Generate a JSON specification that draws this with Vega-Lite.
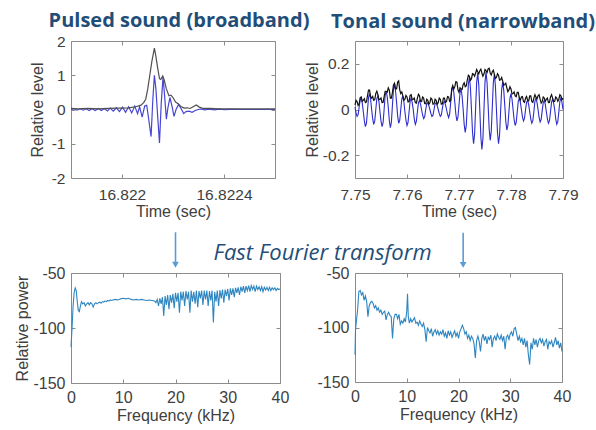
{
  "$schema": "https://vega.github.io/schema/vega-lite/v6.json",
  "autosize": {"type": "pad"},
  "padding": {"left": 14, "top": 10, "right": 5, "bottom": 5},
  "background": "white",
  "columns": 2,
  "bounds": "flush",
  "align": "each",
  "spacing": {"row": 95, "column": 75},
  "config": {
    "view": {"stroke": "#8c8c8c", "strokeWidth": 1},
    "locale": {"number": {"decimal": ".", "thousands": ",", "grouping": [3], "currency": ["$", ""], "minus": "-"}},
    "axis": {
      "domain": false, "grid": false,
      "labelFont": "Liberation Sans", "labelFontSize": 15.5, "labelColor": "#404040",
      "titleFont": "Liberation Sans", "titleFontSize": 16, "titleFontWeight": "normal", "titleColor": "#404040",
      "tickColor": "#8c8c8c", "tickSize": -4, "labelFlush": false
    },
    "title": {"font": "Open Sans", "fontSize": 20, "fontWeight": "bold", "color": "#1f4e79", "baseline": "alphabetic", "frame": "group"}
  },
  "datasets": {
    "pulseBlue": [
      {"t":16.8218,"v":0.0},{"t":16.821812,"v":0.02},{"t":16.821824,"v":-0.02},{"t":16.821836,"v":0.02},{"t":16.821848,"v":-0.02},{"t":16.821859,"v":0.02},{"t":16.821871,"v":-0.03},{"t":16.821883,"v":0.02},{"t":16.821895,"v":-0.03},{"t":16.821907,"v":0.03},{"t":16.821919,"v":-0.03},{"t":16.821931,"v":0.03},{"t":16.821943,"v":-0.04},{"t":16.821954,"v":0.04},{"t":16.821966,"v":-0.05},{"t":16.821978,"v":0.05},{"t":16.82199,"v":-0.06},{"t":16.822002,"v":0.07},{"t":16.822014,"v":-0.08},{"t":16.822026,"v":0.08},{"t":16.822038,"v":-0.1},{"t":16.82205,"v":0.1},{"t":16.822061,"v":-0.12},{"t":16.822069,"v":0.08},{"t":16.822079,"v":-0.22},{"t":16.822089,"v":0.1},{"t":16.822097,"v":0.12},{"t":16.822105,"v":-0.3},{"t":16.822114,"v":-0.79},{"t":16.822121,"v":0.3},{"t":16.822127,"v":1.0},{"t":16.822133,"v":0.6},{"t":16.822139,"v":-0.1},{"t":16.822147,"v":-0.98},{"t":16.822154,"v":0.2},{"t":16.822161,"v":0.95},{"t":16.822166,"v":0.5},{"t":16.822174,"v":-0.28},{"t":16.82218,"v":0.05},{"t":16.822188,"v":0.35},{"t":16.822196,"v":0.1},{"t":16.822204,"v":-0.2},{"t":16.822212,"v":0.0},{"t":16.822222,"v":0.15},{"t":16.822232,"v":0.02},{"t":16.822242,"v":-0.12},{"t":16.822251,"v":-0.06},{"t":16.822263,"v":-0.05},{"t":16.822275,"v":-0.08},{"t":16.822287,"v":-0.03},{"t":16.822299,"v":0.0},{"t":16.822311,"v":0.02},{"t":16.822323,"v":-0.01},{"t":16.822343,"v":0.01},{"t":16.822362,"v":-0.01},{"t":16.822382,"v":0.01},{"t":16.822402,"v":-0.005},{"t":16.822422,"v":0.005},{"t":16.822461,"v":0.0},{"t":16.822501,"v":0.0},{"t":16.822541,"v":0.0},{"t":16.8226,"v":0.0}
    ],
    "pulseBlack": [
      {"t":16.8218,"v":0.03},{"t":16.821828,"v":0.02},{"t":16.821867,"v":0.03},{"t":16.821907,"v":0.02},{"t":16.821947,"v":0.03},{"t":16.821986,"v":0.04},{"t":16.822026,"v":0.05},{"t":16.822053,"v":0.08},{"t":16.822073,"v":0.12},{"t":16.822085,"v":0.2},{"t":16.822093,"v":0.3},{"t":16.822101,"v":0.6},{"t":16.822109,"v":1.0},{"t":16.822117,"v":1.4},{"t":16.822127,"v":1.79},{"t":16.822133,"v":1.55},{"t":16.822139,"v":1.25},{"t":16.822147,"v":0.9},{"t":16.822152,"v":0.88},{"t":16.82216,"v":0.98},{"t":16.822166,"v":0.85},{"t":16.822174,"v":0.6},{"t":16.822184,"v":0.4},{"t":16.822192,"v":0.42},{"t":16.8222,"v":0.35},{"t":16.82221,"v":0.22},{"t":16.82222,"v":0.17},{"t":16.822232,"v":0.08},{"t":16.822244,"v":0.04},{"t":16.822255,"v":0.05},{"t":16.822267,"v":0.03},{"t":16.822279,"v":0.08},{"t":16.822291,"v":0.13},{"t":16.822303,"v":0.07},{"t":16.822319,"v":0.03},{"t":16.822343,"v":0.03},{"t":16.822382,"v":0.02},{"t":16.822461,"v":0.02},{"t":16.822541,"v":0.02},{"t":16.8226,"v":0.02}
    ],
    "toneBlue": [
      {"t":7.75,"v":0.01},{"t":7.7504,"v":-0.03},{"t":7.7508,"v":0.01},{"t":7.7512,"v":0.05},{"t":7.7516,"v":-0.01},{"t":7.752,"v":-0.075},{"t":7.7524,"v":-0.005},{"t":7.7528,"v":0.07},{"t":7.7532,"v":0.0},{"t":7.7536,"v":-0.065},{"t":7.754,"v":0.0},{"t":7.7544,"v":0.06},{"t":7.7548,"v":-0.01},{"t":7.7552,"v":-0.075},{"t":7.7556,"v":0.0},{"t":7.756,"v":0.08},{"t":7.7564,"v":0.01},{"t":7.7568,"v":-0.08},{"t":7.7572,"v":0.02},{"t":7.7576,"v":0.11},{"t":7.758,"v":0.03},{"t":7.7584,"v":-0.06},{"t":7.7588,"v":0.0},{"t":7.7592,"v":0.06},{"t":7.7596,"v":-0.01},{"t":7.76,"v":-0.07},{"t":7.7604,"v":-0.01},{"t":7.7608,"v":0.05},{"t":7.7612,"v":0.0},{"t":7.7616,"v":-0.065},{"t":7.762,"v":-0.01},{"t":7.7624,"v":0.04},{"t":7.7628,"v":0.0},{"t":7.7632,"v":-0.04},{"t":7.7636,"v":0.0},{"t":7.764,"v":0.03},{"t":7.7644,"v":0.0},{"t":7.7648,"v":-0.03},{"t":7.7652,"v":0.0},{"t":7.7656,"v":0.03},{"t":7.766,"v":0.0},{"t":7.7664,"v":-0.03},{"t":7.7668,"v":0.005},{"t":7.7672,"v":0.035},{"t":7.7676,"v":0.0},{"t":7.768,"v":-0.035},{"t":7.7684,"v":0.03},{"t":7.7688,"v":0.1},{"t":7.7692,"v":0.03},{"t":7.7696,"v":-0.05},{"t":7.77,"v":0.02},{"t":7.7704,"v":0.09},{"t":7.7708,"v":0.0},{"t":7.7712,"v":-0.1},{"t":7.7716,"v":0.02},{"t":7.772,"v":0.14},{"t":7.7724,"v":0.0},{"t":7.7728,"v":-0.15},{"t":7.7732,"v":0.01},{"t":7.7736,"v":0.16},{"t":7.774,"v":0.0},{"t":7.7744,"v":-0.175},{"t":7.7748,"v":0.0},{"t":7.7752,"v":0.165},{"t":7.7756,"v":0.02},{"t":7.776,"v":-0.135},{"t":7.7764,"v":0.01},{"t":7.7768,"v":0.155},{"t":7.7772,"v":0.0},{"t":7.7776,"v":-0.15},{"t":7.778,"v":-0.01},{"t":7.7784,"v":0.12},{"t":7.7788,"v":0.02},{"t":7.7792,"v":-0.09},{"t":7.7796,"v":-0.01},{"t":7.78,"v":0.07},{"t":7.7804,"v":0.0},{"t":7.7808,"v":-0.07},{"t":7.7812,"v":-0.01},{"t":7.7816,"v":0.05},{"t":7.782,"v":0.0},{"t":7.7824,"v":-0.05},{"t":7.7828,"v":0.0},{"t":7.7832,"v":0.04},{"t":7.7836,"v":-0.01},{"t":7.784,"v":-0.06},{"t":7.7844,"v":-0.01},{"t":7.7848,"v":0.05},{"t":7.7852,"v":0.0},{"t":7.7856,"v":-0.055},{"t":7.786,"v":-0.005},{"t":7.7864,"v":0.04},{"t":7.7868,"v":-0.01},{"t":7.7872,"v":-0.06},{"t":7.7876,"v":-0.01},{"t":7.788,"v":0.045},{"t":7.7884,"v":0.0},{"t":7.7888,"v":-0.065},{"t":7.7892,"v":-0.01},{"t":7.7896,"v":0.05},{"t":7.79,"v":0.0},
      {"t":7.7502,"v":-0.015},{"t":7.7506,"v":-0.022},{"t":7.751,"v":0.042},{"t":7.7514,"v":0.028},{"t":7.7518,"v":-0.05},{"t":7.7522,"v":-0.06},{"t":7.7526,"v":0.052},{"t":7.753,"v":0.045},{"t":7.7534,"v":-0.04},{"t":7.7538,"v":-0.05},{"t":7.7542,"v":0.048},{"t":7.7546,"v":0.035},{"t":7.755,"v":-0.05},{"t":7.7554,"v":-0.058},{"t":7.7558,"v":0.062},{"t":7.7562,"v":0.055},{"t":7.7566,"v":-0.048},{"t":7.757,"v":-0.056},{"t":7.7574,"v":0.088},{"t":7.7578,"v":0.08},{"t":7.7582,"v":-0.028},{"t":7.7586,"v":-0.048},{"t":7.759,"v":0.046},{"t":7.7594,"v":0.034},{"t":7.7598,"v":-0.047},{"t":7.7602,"v":-0.056},{"t":7.7606,"v":0.036},{"t":7.761,"v":0.03},{"t":7.7614,"v":-0.042},{"t":7.7618,"v":-0.052},{"t":7.7622,"v":0.03},{"t":7.7626,"v":0.024},{"t":7.763,"v":-0.024},{"t":7.7634,"v":-0.032},{"t":7.7638,"v":0.025},{"t":7.7642,"v":0.017},{"t":7.7646,"v":-0.018},{"t":7.765,"v":-0.025},{"t":7.7654,"v":0.024},{"t":7.7658,"v":0.018},{"t":7.7662,"v":-0.017},{"t":7.7666,"v":-0.024},{"t":7.767,"v":0.03},{"t":7.7674,"v":0.02},{"t":7.7678,"v":-0.02},{"t":7.7682,"v":-0.02},{"t":7.7686,"v":0.084},{"t":7.769,"v":0.075},{"t":7.7694,"v":-0.022},{"t":7.7698,"v":-0.034},{"t":7.7702,"v":0.074},{"t":7.7706,"v":0.058},{"t":7.771,"v":-0.066},{"t":7.7714,"v":-0.07},{"t":7.7718,"v":0.11},{"t":7.7722,"v":0.094},{"t":7.7726,"v":-0.1},{"t":7.773,"v":-0.108},{"t":7.7734,"v":0.12},{"t":7.7738,"v":0.108},{"t":7.7742,"v":-0.118},{"t":7.7746,"v":-0.128},{"t":7.775,"v":0.12},{"t":7.7754,"v":0.116},{"t":7.7758,"v":-0.084},{"t":7.7762,"v":-0.097},{"t":7.7766,"v":0.117},{"t":7.777,"v":0.104},{"t":7.7774,"v":-0.1},{"t":7.7778,"v":-0.113},{"t":7.7782,"v":0.086},{"t":7.7786,"v":0.085},{"t":7.779,"v":-0.053},{"t":7.7794,"v":-0.07},{"t":7.7798,"v":0.05},{"t":7.7802,"v":0.045},{"t":7.7806,"v":-0.045},{"t":7.781,"v":-0.056},{"t":7.7814,"v":0.036},{"t":7.7818,"v":0.031},{"t":7.7822,"v":-0.031},{"t":7.7826,"v":-0.039},{"t":7.783,"v":0.032},{"t":7.7834,"v":0.021},{"t":7.7838,"v":-0.041},{"t":7.7842,"v":-0.049},{"t":7.7846,"v":0.036},{"t":7.785,"v":0.031},{"t":7.7854,"v":-0.035},{"t":7.7858,"v":-0.044},{"t":7.7862,"v":0.03},{"t":7.7866,"v":0.021},{"t":7.787,"v":-0.041},{"t":7.7874,"v":-0.049},{"t":7.7878,"v":0.032},{"t":7.7882,"v":0.028},{"t":7.7886,"v":-0.041},{"t":7.789,"v":-0.053},{"t":7.7894,"v":0.036},{"t":7.7898,"v":0.031}
    ],
    "toneBlack": [
      {"t":7.75,"v":0.02},{"t":7.7504,"v":0.035},{"t":7.7508,"v":0.025},{"t":7.7512,"v":0.055},{"t":7.7516,"v":0.04},{"t":7.752,"v":0.03},{"t":7.7524,"v":0.06},{"t":7.7528,"v":0.085},{"t":7.7532,"v":0.05},{"t":7.7536,"v":0.04},{"t":7.754,"v":0.07},{"t":7.7544,"v":0.065},{"t":7.7548,"v":0.045},{"t":7.7552,"v":0.03},{"t":7.7556,"v":0.055},{"t":7.756,"v":0.08},{"t":7.7564,"v":0.095},{"t":7.7568,"v":0.05},{"t":7.7572,"v":0.075},{"t":7.7576,"v":0.115},{"t":7.758,"v":0.09},{"t":7.7584,"v":0.125},{"t":7.7588,"v":0.07},{"t":7.7592,"v":0.06},{"t":7.7596,"v":0.045},{"t":7.76,"v":0.055},{"t":7.7604,"v":0.035},{"t":7.7608,"v":0.065},{"t":7.7612,"v":0.045},{"t":7.7616,"v":0.03},{"t":7.762,"v":0.05},{"t":7.7624,"v":0.06},{"t":7.7628,"v":0.035},{"t":7.7632,"v":0.05},{"t":7.7636,"v":0.025},{"t":7.764,"v":0.04},{"t":7.7644,"v":0.03},{"t":7.7648,"v":0.045},{"t":7.7652,"v":0.025},{"t":7.7656,"v":0.04},{"t":7.766,"v":0.03},{"t":7.7664,"v":0.045},{"t":7.7668,"v":0.025},{"t":7.7672,"v":0.05},{"t":7.7676,"v":0.035},{"t":7.768,"v":0.055},{"t":7.7684,"v":0.04},{"t":7.7688,"v":0.105},{"t":7.7692,"v":0.1},{"t":7.7696,"v":0.12},{"t":7.77,"v":0.075},{"t":7.7704,"v":0.09},{"t":7.7708,"v":0.11},{"t":7.7712,"v":0.1},{"t":7.7716,"v":0.13},{"t":7.772,"v":0.145},{"t":7.7724,"v":0.135},{"t":7.7728,"v":0.155},{"t":7.7732,"v":0.16},{"t":7.7736,"v":0.165},{"t":7.774,"v":0.17},{"t":7.7744,"v":0.16},{"t":7.7748,"v":0.155},{"t":7.7752,"v":0.17},{"t":7.7756,"v":0.178},{"t":7.776,"v":0.16},{"t":7.7764,"v":0.165},{"t":7.7768,"v":0.155},{"t":7.7772,"v":0.14},{"t":7.7776,"v":0.15},{"t":7.778,"v":0.13},{"t":7.7784,"v":0.125},{"t":7.7788,"v":0.11},{"t":7.7792,"v":0.095},{"t":7.7796,"v":0.085},{"t":7.78,"v":0.09},{"t":7.7804,"v":0.07},{"t":7.7808,"v":0.06},{"t":7.7812,"v":0.075},{"t":7.7816,"v":0.05},{"t":7.782,"v":0.055},{"t":7.7824,"v":0.035},{"t":7.7828,"v":0.05},{"t":7.7832,"v":0.04},{"t":7.7836,"v":0.06},{"t":7.784,"v":0.035},{"t":7.7844,"v":0.05},{"t":7.7848,"v":0.055},{"t":7.7852,"v":0.06},{"t":7.7856,"v":0.045},{"t":7.786,"v":0.035},{"t":7.7864,"v":0.05},{"t":7.7868,"v":0.045},{"t":7.7872,"v":0.03},{"t":7.7876,"v":0.055},{"t":7.788,"v":0.05},{"t":7.7884,"v":0.035},{"t":7.7888,"v":0.05},{"t":7.7892,"v":0.045},{"t":7.7896,"v":0.06},{"t":7.79,"v":0.05},
      {"t":7.7502,"v":0.04},{"t":7.7506,"v":0.018},{"t":7.751,"v":0.052},{"t":7.7514,"v":0.036},{"t":7.7518,"v":0.047},{"t":7.7522,"v":0.033},{"t":7.7526,"v":0.085},{"t":7.753,"v":0.056},{"t":7.7534,"v":0.057},{"t":7.7538,"v":0.043},{"t":7.7542,"v":0.08},{"t":7.7546,"v":0.043},{"t":7.755,"v":0.05},{"t":7.7554,"v":0.031},{"t":7.7558,"v":0.08},{"t":7.7562,"v":0.076},{"t":7.7566,"v":0.085},{"t":7.757,"v":0.05},{"t":7.7574,"v":0.107},{"t":7.7578,"v":0.09},{"t":7.7582,"v":0.12},{"t":7.7586,"v":0.086},{"t":7.759,"v":0.077},{"t":7.7594,"v":0.04},{"t":7.7598,"v":0.062},{"t":7.7602,"v":0.033},{"t":7.7606,"v":0.062},{"t":7.761,"v":0.043},{"t":7.7614,"v":0.05},{"t":7.7618,"v":0.028},{"t":7.7622,"v":0.067},{"t":7.7626,"v":0.036},{"t":7.763,"v":0.055},{"t":7.7634,"v":0.026},{"t":7.7638,"v":0.045},{"t":7.7642,"v":0.023},{"t":7.7646,"v":0.05},{"t":7.765,"v":0.023},{"t":7.7654,"v":0.045},{"t":7.7658,"v":0.023},{"t":7.7662,"v":0.05},{"t":7.7666,"v":0.023},{"t":7.767,"v":0.05},{"t":7.7674,"v":0.031},{"t":7.7678,"v":0.057},{"t":7.7682,"v":0.036},{"t":7.7686,"v":0.09},{"t":7.769,"v":0.09},{"t":7.7694,"v":0.122},{"t":7.7698,"v":0.086},{"t":7.7702,"v":0.095},{"t":7.7706,"v":0.088},{"t":7.771,"v":0.117},{"t":7.7714,"v":0.103},{"t":7.7718,"v":0.15},{"t":7.7722,"v":0.128},{"t":7.7726,"v":0.157},{"t":7.773,"v":0.146},{"t":7.7734,"v":0.175},{"t":7.7738,"v":0.156},{"t":7.7742,"v":0.177},{"t":7.7746,"v":0.146},{"t":7.775,"v":0.175},{"t":7.7754,"v":0.162},{"t":7.7758,"v":0.181},{"t":7.7762,"v":0.151},{"t":7.7766,"v":0.172},{"t":7.777,"v":0.136},{"t":7.7774,"v":0.157},{"t":7.7778,"v":0.128},{"t":7.7782,"v":0.14},{"t":7.7786,"v":0.106},{"t":7.779,"v":0.115},{"t":7.7794,"v":0.078},{"t":7.7798,"v":0.1},{"t":7.7802,"v":0.068},{"t":7.7806,"v":0.077},{"t":7.781,"v":0.056},{"t":7.7814,"v":0.075},{"t":7.7818,"v":0.041},{"t":7.7822,"v":0.057},{"t":7.7826,"v":0.031},{"t":7.783,"v":0.057},{"t":7.7834,"v":0.038},{"t":7.7838,"v":0.06},{"t":7.7842,"v":0.031},{"t":7.7846,"v":0.065},{"t":7.785,"v":0.046},{"t":7.7854,"v":0.065},{"t":7.7858,"v":0.028},{"t":7.7862,"v":0.055},{"t":7.7866,"v":0.036},{"t":7.787,"v":0.05},{"t":7.7874,"v":0.031},{"t":7.7878,"v":0.065},{"t":7.7882,"v":0.035},{"t":7.7886,"v":0.055},{"t":7.789,"v":0.036},{"t":7.7894,"v":0.065},{"t":7.7898,"v":0.043}
    ],
    "pulseFFT": [
      {"f":0.0,"p":-117},{"f":0.2,"p":-100},{"f":0.4,"p":-80},{"f":0.6,"p":-68},{"f":0.8,"p":-63.5},{"f":1.0,"p":-66},{"f":1.2,"p":-76},{"f":1.4,"p":-84},{"f":1.6,"p":-85},{"f":1.8,"p":-80},{"f":2.0,"p":-76},{"f":2.25,"p":-78},{"f":2.5,"p":-77},{"f":2.75,"p":-80},{"f":3.0,"p":-78},{"f":3.25,"p":-77},{"f":3.5,"p":-79},{"f":3.75,"p":-77},{"f":4.0,"p":-78},{"f":4.25,"p":-81},{"f":4.5,"p":-78},{"f":4.75,"p":-77},{"f":5.0,"p":-78},{"f":5.25,"p":-77},{"f":5.5,"p":-76.5},{"f":5.75,"p":-77.5},{"f":6.0,"p":-76},{"f":6.25,"p":-76.5},{"f":6.5,"p":-75.5},{"f":6.75,"p":-76},{"f":7.0,"p":-75},{"f":7.25,"p":-75.5},{"f":7.5,"p":-74.5},{"f":7.75,"p":-75},{"f":8.0,"p":-74.5},{"f":8.5,"p":-74},{"f":9.0,"p":-74.5},{"f":9.5,"p":-73.5},{"f":10.0,"p":-73},{"f":10.5,"p":-73.5},{"f":11.0,"p":-73},{"f":11.5,"p":-74},{"f":12.0,"p":-74.5},{"f":12.5,"p":-74},{"f":13.0,"p":-74.5},{"f":13.5,"p":-74},{"f":14.0,"p":-74.5},{"f":14.5,"p":-75},{"f":15.0,"p":-74.5},{"f":15.5,"p":-75},{"f":16.0,"p":-75.5},{"f":16.25,"p":-77},{"f":16.5,"p":-74},{"f":16.75,"p":-80},{"f":17.0,"p":-73},{"f":17.25,"p":-78},{"f":17.5,"p":-72},{"f":17.75,"p":-89},{"f":18.0,"p":-71},{"f":18.25,"p":-79},{"f":18.5,"p":-70},{"f":18.75,"p":-83},{"f":19.0,"p":-70},{"f":19.25,"p":-77},{"f":19.5,"p":-69},{"f":19.75,"p":-82},{"f":20.0,"p":-68},{"f":20.25,"p":-76},{"f":20.5,"p":-68},{"f":20.75,"p":-86},{"f":21.0,"p":-67},{"f":21.25,"p":-75},{"f":21.5,"p":-67},{"f":21.75,"p":-80},{"f":22.0,"p":-66.5},{"f":22.25,"p":-74},{"f":22.5,"p":-67},{"f":22.75,"p":-86},{"f":23.0,"p":-66},{"f":23.25,"p":-76},{"f":23.5,"p":-67},{"f":23.75,"p":-78},{"f":24.0,"p":-66},{"f":24.25,"p":-81},{"f":24.5,"p":-66.5},{"f":24.75,"p":-73},{"f":25.0,"p":-66},{"f":25.25,"p":-79},{"f":25.5,"p":-66},{"f":25.75,"p":-74},{"f":26.0,"p":-66},{"f":26.25,"p":-80},{"f":26.5,"p":-66.5},{"f":26.75,"p":-75},{"f":27.0,"p":-66},{"f":27.25,"p":-95},{"f":27.5,"p":-67},{"f":27.75,"p":-76},{"f":28.0,"p":-66},{"f":28.25,"p":-80},{"f":28.5,"p":-65.5},{"f":28.75,"p":-73},{"f":29.0,"p":-65},{"f":29.25,"p":-77},{"f":29.5,"p":-65},{"f":29.75,"p":-71},{"f":30.0,"p":-64.5},{"f":30.25,"p":-75},{"f":30.5,"p":-64},{"f":30.75,"p":-70},{"f":31.0,"p":-64},{"f":31.25,"p":-72},{"f":31.5,"p":-63.5},{"f":31.75,"p":-68},{"f":32.0,"p":-63},{"f":32.25,"p":-70},{"f":32.5,"p":-62.5},{"f":32.75,"p":-67},{"f":33.0,"p":-62},{"f":33.25,"p":-68},{"f":33.5,"p":-62},{"f":33.75,"p":-66},{"f":34.0,"p":-61.5},{"f":34.25,"p":-67},{"f":34.5,"p":-61.5},{"f":34.75,"p":-65},{"f":35.0,"p":-62},{"f":35.25,"p":-67},{"f":35.5,"p":-62},{"f":35.75,"p":-65},{"f":36.0,"p":-62.5},{"f":36.25,"p":-66},{"f":36.5,"p":-62.5},{"f":36.75,"p":-67},{"f":37.0,"p":-63},{"f":37.25,"p":-65.5},{"f":37.5,"p":-63},{"f":37.75,"p":-66},{"f":38.0,"p":-63},{"f":38.25,"p":-66},{"f":38.5,"p":-63.5},{"f":38.75,"p":-65},{"f":39.0,"p":-63.5},{"f":39.25,"p":-66},{"f":39.5,"p":-64},{"f":39.75,"p":-65},{"f":40.0,"p":-64.5}
    ],
    "toneFFT": [
      {"f":0.0,"p":-125},{"f":0.1,"p":-102},{"f":0.25,"p":-95},{"f":0.5,"p":-84},{"f":0.75,"p":-67},{"f":1.0,"p":-66},{"f":1.25,"p":-70},{"f":1.5,"p":-68},{"f":1.75,"p":-75},{"f":2.0,"p":-71},{"f":2.25,"p":-76},{"f":2.5,"p":-90},{"f":2.75,"p":-80},{"f":3.0,"p":-77},{"f":3.25,"p":-76},{"f":3.5,"p":-78},{"f":3.75,"p":-82},{"f":4.0,"p":-80},{"f":4.25,"p":-84},{"f":4.5,"p":-82},{"f":4.75,"p":-86},{"f":5.0,"p":-84},{"f":5.25,"p":-88},{"f":5.5,"p":-86},{"f":5.75,"p":-85},{"f":6.0,"p":-93},{"f":6.25,"p":-88},{"f":6.5,"p":-86},{"f":6.75,"p":-89},{"f":7.0,"p":-90},{"f":7.25,"p":-110},{"f":7.5,"p":-92},{"f":7.75,"p":-88},{"f":8.0,"p":-88},{"f":8.25,"p":-92},{"f":8.5,"p":-88},{"f":8.75,"p":-97},{"f":9.0,"p":-94},{"f":9.25,"p":-96},{"f":9.5,"p":-92},{"f":9.75,"p":-95},{"f":10.0,"p":-85},{"f":10.15,"p":-69},{"f":10.3,"p":-90},{"f":10.5,"p":-96},{"f":10.75,"p":-92},{"f":11.0,"p":-95},{"f":11.25,"p":-93},{"f":11.5,"p":-91},{"f":11.75,"p":-96},{"f":12.0,"p":-95},{"f":12.25,"p":-98},{"f":12.5,"p":-94},{"f":12.75,"p":-97},{"f":13.0,"p":-99},{"f":13.25,"p":-96},{"f":13.5,"p":-102},{"f":13.75,"p":-113},{"f":14.0,"p":-100},{"f":14.25,"p":-103},{"f":14.5,"p":-105},{"f":14.75,"p":-101},{"f":15.0,"p":-108},{"f":15.25,"p":-104},{"f":15.5,"p":-102},{"f":15.75,"p":-106},{"f":16.0,"p":-103},{"f":16.25,"p":-107},{"f":16.5,"p":-104},{"f":16.75,"p":-106},{"f":17.0,"p":-102},{"f":17.25,"p":-108},{"f":17.5,"p":-105},{"f":17.75,"p":-110},{"f":18.0,"p":-103},{"f":18.25,"p":-107},{"f":18.5,"p":-104},{"f":18.75,"p":-109},{"f":19.0,"p":-106},{"f":19.25,"p":-103},{"f":19.5,"p":-108},{"f":19.75,"p":-105},{"f":20.0,"p":-110},{"f":20.25,"p":-104},{"f":20.5,"p":-101},{"f":20.75,"p":-98},{"f":21.0,"p":-101},{"f":21.25,"p":-106},{"f":21.5,"p":-104},{"f":21.75,"p":-110},{"f":22.0,"p":-107},{"f":22.25,"p":-112},{"f":22.5,"p":-108},{"f":22.75,"p":-110},{"f":23.0,"p":-115},{"f":23.25,"p":-128},{"f":23.5,"p":-112},{"f":23.75,"p":-108},{"f":24.0,"p":-113},{"f":24.25,"p":-122},{"f":24.5,"p":-110},{"f":24.75,"p":-106},{"f":25.0,"p":-112},{"f":25.25,"p":-108},{"f":25.5,"p":-115},{"f":25.75,"p":-109},{"f":26.0,"p":-111},{"f":26.25,"p":-107},{"f":26.5,"p":-118},{"f":26.75,"p":-110},{"f":27.0,"p":-108},{"f":27.25,"p":-112},{"f":27.5,"p":-106},{"f":27.75,"p":-109},{"f":28.0,"p":-111},{"f":28.25,"p":-107},{"f":28.5,"p":-112},{"f":28.75,"p":-108},{"f":29.0,"p":-120},{"f":29.25,"p":-109},{"f":29.5,"p":-107},{"f":29.75,"p":-111},{"f":30.0,"p":-106},{"f":30.25,"p":-104},{"f":30.5,"p":-108},{"f":30.75,"p":-101},{"f":31.0,"p":-100},{"f":31.25,"p":-106},{"f":31.5,"p":-112},{"f":31.75,"p":-108},{"f":32.0,"p":-113},{"f":32.25,"p":-110},{"f":32.5,"p":-116},{"f":32.75,"p":-110},{"f":33.0,"p":-118},{"f":33.25,"p":-112},{"f":33.5,"p":-125},{"f":33.75,"p":-134},{"f":34.0,"p":-114},{"f":34.25,"p":-120},{"f":34.5,"p":-110},{"f":34.75,"p":-116},{"f":35.0,"p":-111},{"f":35.25,"p":-118},{"f":35.5,"p":-112},{"f":35.75,"p":-110},{"f":36.0,"p":-114},{"f":36.25,"p":-111},{"f":36.5,"p":-117},{"f":36.75,"p":-113},{"f":37.0,"p":-111},{"f":37.25,"p":-120},{"f":37.5,"p":-113},{"f":37.75,"p":-115},{"f":38.0,"p":-112},{"f":38.25,"p":-118},{"f":38.5,"p":-114},{"f":38.75,"p":-109},{"f":39.0,"p":-116},{"f":39.25,"p":-112},{"f":39.5,"p":-119},{"f":39.75,"p":-114},{"f":40.0,"p":-122}
    ]
  },
  "concat": [
    {
      "width": 204, "height": 137,
      "title": {"text": "Pulsed sound (broadband)", "dx": 6, "offset": 3},
      "resolve": {"axis": {"x": "independent", "y": "independent"}},
      "layer": [
        {"data": {"name": "pulseBlue"}, "mark": {"type": "line", "color": "#4646d2", "strokeWidth": 1.2},
         "encoding": {
           "x": {"field": "t", "type": "quantitative", "scale": {"domain": [16.8218, 16.8226], "nice": false, "zero": false},
                 "axis": {"values": [16.822, 16.8224], "format": ".4~f", "title": "Time (sec)", "labelPadding": 13, "titlePadding": 1}},
           "y": {"field": "v", "type": "quantitative", "scale": {"domain": [-2, 2], "nice": false},
                 "axis": {"values": [-2, -1, 0, 1, 2], "title": "Relative level", "labelPadding": 10, "titlePadding": 6}}
         }},
        {"data": {"name": "pulseBlack"}, "mark": {"type": "line", "color": "#505050", "strokeWidth": 1.2},
         "encoding": {
           "x": {"field": "t", "type": "quantitative", "scale": {"domain": [16.8218, 16.8226], "nice": false, "zero": false},
                 "axis": {"orient": "top", "values": [16.822, 16.8224], "labels": false, "title": null}},
           "y": {"field": "v", "type": "quantitative", "scale": {"domain": [-2, 2], "nice": false},
                 "axis": {"orient": "right", "values": [-2, -1, 0, 1, 2], "labels": false, "title": null}}
         }}
      ]
    },
    {
      "width": 208, "height": 137,
      "title": {"text": "Tonal sound (narrowband)", "dx": 4, "offset": 9},
      "resolve": {"axis": {"x": "independent", "y": "independent"}},
      "layer": [
        {"data": {"name": "toneBlue"}, "mark": {"type": "line", "color": "#2d2dcc", "strokeWidth": 1.1},
         "encoding": {
           "x": {"field": "t", "type": "quantitative", "scale": {"domain": [7.75, 7.79], "nice": false, "zero": false},
                 "axis": {"values": [7.75, 7.76, 7.77, 7.78, 7.79], "format": ".2f", "title": "Time (sec)", "labelPadding": 13, "titlePadding": 1}},
           "y": {"field": "v", "type": "quantitative", "scale": {"domain": [-0.3, 0.3], "nice": false},
                 "axis": {"values": [-0.2, 0, 0.2], "format": ".1~f", "title": "Relative level", "labelPadding": 10, "titlePadding": 2}}
         }},
        {"data": {"name": "toneBlack"}, "mark": {"type": "line", "color": "#111111", "strokeWidth": 1.2},
         "encoding": {
           "x": {"field": "t", "type": "quantitative", "scale": {"domain": [7.75, 7.79], "nice": false, "zero": false},
                 "axis": {"orient": "top", "values": [7.75, 7.76, 7.77, 7.78, 7.79], "labels": false, "title": null}},
           "y": {"field": "v", "type": "quantitative", "scale": {"domain": [-0.3, 0.3], "nice": false},
                 "axis": {"orient": "right", "values": [-0.2, 0, 0.2], "labels": false, "title": null}}
         }}
      ]
    },
    {
      "width": 209, "height": 110,
      "resolve": {"axis": {"x": "independent", "y": "independent"}},
      "layer": [
        {"data": {"name": "pulseFFT"}, "mark": {"type": "line", "color": "#2e86c1", "strokeWidth": 1.1},
         "encoding": {
           "x": {"field": "f", "type": "quantitative", "scale": {"domain": [0, 40], "nice": false},
                 "axis": {"values": [0, 10, 20, 30, 40], "title": "Frequency (kHz)", "labelPadding": 10, "titlePadding": 2, "labelFontSize": 16}},
           "y": {"field": "p", "type": "quantitative", "scale": {"domain": [-150, -50], "nice": false, "zero": false},
                 "axis": {"values": [-150, -100, -50], "title": "Relative power", "labelPadding": 10, "titlePadding": 2, "labelFontSize": 16}}
         }},
        {"data": {"values": [{}]}, "mark": {"type": "rule", "color": "#5b9bd5", "strokeWidth": 1.6},
         "encoding": {
           "x": {"datum": 20, "type": "quantitative", "axis": {"orient": "top", "values": [0, 10, 20, 30, 40], "labels": false, "title": null}},
           "y": {"datum": -13, "type": "quantitative", "axis": {"orient": "right", "values": [-150, -100, -50], "labels": false, "title": null}},
           "y2": {"datum": -41}
         }},
        {"data": {"values": [{}]}, "mark": {"type": "point", "shape": "triangle-down", "filled": true, "color": "#5b9bd5", "size": 45, "opacity": 1},
         "encoding": {"x": {"datum": 20, "type": "quantitative", "axis": null}, "y": {"datum": -42.5, "type": "quantitative", "axis": null}}}
      ]
    },
    {
      "width": 207, "height": 109,
      "title": {"text": "Fast Fourier transform", "fontStyle": "italic", "fontWeight": "normal", "fontSize": 22, "dx": -136, "dy": 36, "offset": 3},
      "resolve": {"axis": {"x": "independent", "y": "independent"}},
      "layer": [
        {"data": {"name": "toneFFT"}, "mark": {"type": "line", "color": "#2e86c1", "strokeWidth": 1.1},
         "encoding": {
           "x": {"field": "f", "type": "quantitative", "scale": {"domain": [0, 40], "nice": false},
                 "axis": {"values": [0, 10, 20, 30, 40], "title": "Frequency (kHz)", "labelPadding": 10, "titlePadding": 2, "labelFontSize": 16}},
           "y": {"field": "p", "type": "quantitative", "scale": {"domain": [-150, -50], "nice": false, "zero": false},
                 "axis": {"values": [-150, -100, -50], "title": null, "labelPadding": 10, "labelFontSize": 16}}
         }},
        {"data": {"values": [{}]}, "mark": {"type": "rule", "color": "#5b9bd5", "strokeWidth": 1.6},
         "encoding": {
           "x": {"datum": 20.9, "type": "quantitative", "axis": {"orient": "top", "values": [0, 10, 20, 30, 40], "labels": false, "title": null}},
           "y": {"datum": -13, "type": "quantitative", "axis": {"orient": "right", "values": [-150, -100, -50], "labels": false, "title": null}},
           "y2": {"datum": -41}
         }},
        {"data": {"values": [{}]}, "mark": {"type": "point", "shape": "triangle-down", "filled": true, "color": "#5b9bd5", "size": 45, "opacity": 1},
         "encoding": {"x": {"datum": 20.9, "type": "quantitative", "axis": null}, "y": {"datum": -42.5, "type": "quantitative", "axis": null}}}
      ]
    }
  ]
}
